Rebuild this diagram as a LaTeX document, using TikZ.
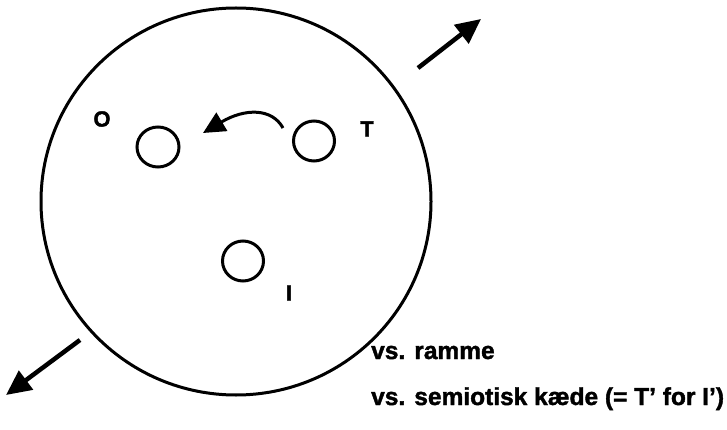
\documentclass[tikz,border=0pt]{standalone}
\usepackage{fontspec}
\setmainfont{Liberation Sans}
\newfontfamily\heavy[BoldFeatures={FakeBold=1.6}]{Liberation Sans}
\usetikzlibrary{shapes.geometric,arrows.meta}
\begin{document}
\begin{tikzpicture}[x=1pt,y=-1pt,
  ring/.style={draw, ellipse, line width=3pt, inner sep=0pt},
  lbl/.style={font=\heavy\bfseries\fontsize{22}{24}\selectfont, inner sep=0pt},
  txt/.style={font=\heavy\bfseries\fontsize{24.5}{28}\selectfont, inner sep=0pt, anchor=base west},
  bigarrow/.style={line width=4.5pt, -{Triangle[length=25pt,width=23pt]}},
  bendarrow/.style={line width=3pt, -{Triangle[length=22pt,width=21pt]}}]
\useasboundingbox (0,0) rectangle (727,430);
% frame
\node[ring, minimum width=390pt, minimum height=387pt] (frame) at (236,201.5) {};
% small circles
\node[ring, minimum width=42pt, minimum height=40pt] (o) at (158,147) {};
\node[ring, minimum width=41pt, minimum height=40pt] (t) at (314,141) {};
\node[ring, minimum width=41pt, minimum height=40pt] (i) at (243,261) {};
% labels
\node[lbl] (lo) at (102,119) {O};
\node[lbl] (lt) at (367,129) {T};
\node[lbl] (li) at (289,293) {I};
% curved arrow T -> O
\coordinate (cs) at (283,128);
\coordinate (ce) at (203,133);
\draw[bendarrow] (cs) .. controls (272,108) and (245,108) .. (ce);
% outward arrows
\coordinate (a1s) at (418,68);
\coordinate (a1e) at (481,19);
\draw[bigarrow] (a1s) -- (a1e);
\coordinate (a2s) at (80,340);
\coordinate (a2e) at (6,395);
\draw[bigarrow] (a2s) -- (a2e);
% texts
\node[txt] (r) at (371,359) {vs. ramme};
\node[txt] (s) at (371,405) {vs. semiotisk kæde (= T’ for I’)};
\end{tikzpicture}
\end{document}
